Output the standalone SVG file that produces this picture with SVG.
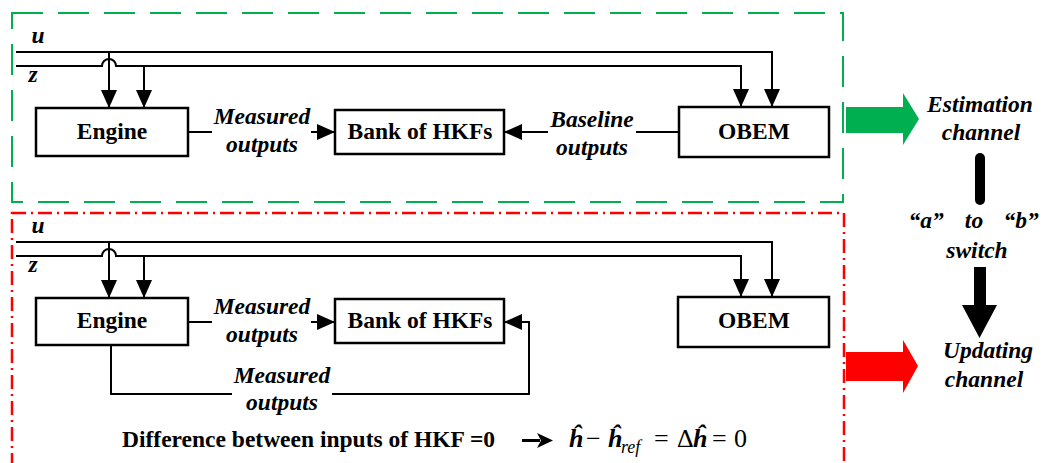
<svg xmlns="http://www.w3.org/2000/svg" width="1044" height="463" viewBox="0 0 1044 463">
  <defs>
    <marker id="ah" viewBox="0 0 18 16" markerWidth="18" markerHeight="16" refX="18" refY="8" orient="auto" markerUnits="userSpaceOnUse">
      <path d="M0,0 L18,8 L0,16 z" fill="#000"/>
    </marker>
    <style>
      .box { fill: #fff; stroke: #000; stroke-width: 2.5; }
      .wire { fill: none; stroke: #000; stroke-width: 2; }
      .arr { fill: none; stroke: #000; stroke-width: 2; marker-end: url(#ah); }
      .lbl { font-family: "Liberation Serif", "Times New Roman", serif; font-size: 23.5px; font-weight: bold; text-anchor: middle; fill: #000; }
      .it { font-family: "Liberation Serif", "Times New Roman", serif; font-size: 23.5px; font-weight: bold; font-style: italic; text-anchor: middle; fill: #000; }
      .math { font-family: "Liberation Serif", "Times New Roman", serif; font-size: 26px; fill: #000; }
    </style>
  </defs>
  <rect width="1044" height="463" fill="#fff"/>

  <!-- channel frames -->
  <rect id="estimation-frame" x="12" y="13" width="831" height="189" fill="none" stroke="#00b050" stroke-width="2" stroke-dasharray="31 15"/>
  <rect id="updating-frame" x="12" y="213" width="832" height="270" fill="none" stroke="#ff0000" stroke-width="2.5" stroke-dasharray="14 5 2 5"/>

  <!-- connectors -->
  <g id="connectors">
    <!-- estimation channel -->
    <path class="arr" d="M16 52 H772 V107"/>
    <path class="arr" d="M109 52 V108"/>
    <path class="arr" d="M16 66 H102 A7 7 0 0 1 116 66 H741 V107"/>
    <path class="arr" d="M144 66 V108"/>
    <path class="wire" d="M188 132 H212"/>
    <path class="arr" d="M311 132 H335"/>
    <path class="wire" d="M679 132 H636"/>
    <path class="arr" d="M548 132 H504"/>
    <!-- updating channel -->
    <path class="arr" d="M16 242 H772 V297"/>
    <path class="arr" d="M109 242 V298"/>
    <path class="arr" d="M16 256 H102 A7 7 0 0 1 116 256 H741 V297"/>
    <path class="arr" d="M144 256 V298"/>
    <path class="wire" d="M188 322 H212"/>
    <path class="arr" d="M311 322 H335"/>
    <path class="wire" d="M111 345 V394 H232"/>
    <path class="arr" d="M332 394 H529 V322 H504"/>
    <!-- implication arrow -->
    <path d="M522 440.5 H540" stroke="#000" stroke-width="3"/>
    <path d="M537 433 L553 440.5 L537 448 L541 440.5 z" fill="#000"/>
  </g>

  <!-- signal labels -->
  <g id="signal-labels" class="it">
    <text x="38" y="43">u</text>
    <text x="33" y="82">z</text>
    <text x="38" y="233">u</text>
    <text x="33" y="272">z</text>
    <text x="262" y="124">Measured</text>
    <text x="262" y="152">outputs</text>
    <text x="592" y="127">Baseline</text>
    <text x="592" y="155">outputs</text>
    <text x="262" y="314">Measured</text>
    <text x="262" y="342">outputs</text>
    <text x="282" y="383">Measured</text>
    <text x="282" y="410">outputs</text>
  </g>

  <!-- estimation channel blocks -->
  <g id="engine-a">
    <rect class="box" x="36" y="108" width="152" height="48"/>
    <text class="lbl" x="112" y="139">Engine</text>
  </g>
  <g id="hkf-a">
    <rect class="box" x="335" y="110" width="169" height="44"/>
    <text class="lbl" x="420" y="139">Bank of HKFs</text>
  </g>
  <g id="obem-a">
    <rect class="box" x="679" y="107" width="150" height="50"/>
    <text class="lbl" x="754" y="139">OBEM</text>
  </g>

  <!-- updating channel blocks -->
  <g id="engine-b">
    <rect class="box" x="36" y="298" width="152" height="47"/>
    <text class="lbl" x="112" y="328">Engine</text>
  </g>
  <g id="hkf-b">
    <rect class="box" x="335" y="299" width="169" height="44"/>
    <text class="lbl" x="420" y="328">Bank of HKFs</text>
  </g>
  <g id="obem-b">
    <rect class="box" x="678" y="297" width="151" height="50"/>
    <text class="lbl" x="754" y="328">OBEM</text>
  </g>

  <!-- zero-difference condition -->
  <g id="condition">
    <text class="lbl" x="122" y="447" style="text-anchor:start">Difference between inputs of HKF =0</text>
    <g class="math">
      <text x="569" y="447" font-weight="bold" font-style="italic">ĥ</text>
      <text x="586" y="447">−</text>
      <text x="608" y="447" font-weight="bold" font-style="italic">ĥ</text>
      <text x="621" y="453" font-size="18" font-style="italic">ref</text>
      <text x="654" y="447">=</text>
      <text x="677" y="447">Δ</text>
      <text x="693" y="447" font-weight="bold" font-style="italic">ĥ</text>
      <text x="712" y="447">=</text>
      <text x="734" y="447">0</text>
    </g>
  </g>

  <!-- channel indicators -->
  <g id="estimation-channel">
    <polygon points="846,107 903,107 903,93 919,119 903,145 903,133 846,133" fill="#00b050"/>
    <text class="it" x="980" y="112">Estimation</text>
    <text class="it" x="981" y="140">channel</text>
  </g>
  <g id="switch">
    <rect x="975" y="153" width="10" height="52" rx="5" fill="#000"/>
    <text class="it" x="926" y="228">“a”</text>
    <text class="it" x="974" y="228">to</text>
    <text class="it" x="1021" y="228">“b”</text>
    <text class="it" x="977" y="258">switch</text>
    <polygon points="974,267 986,267 986,305 997,305 979.5,338 962,305 974,305" fill="#000"/>
  </g>
  <g id="updating-channel">
    <polygon points="846,352 903,352 903,340 918,366 903,393 903,381 846,381" fill="#ff0000"/>
    <text class="it" x="988" y="358">Updating</text>
    <text class="it" x="984" y="387">channel</text>
  </g>
</svg>
